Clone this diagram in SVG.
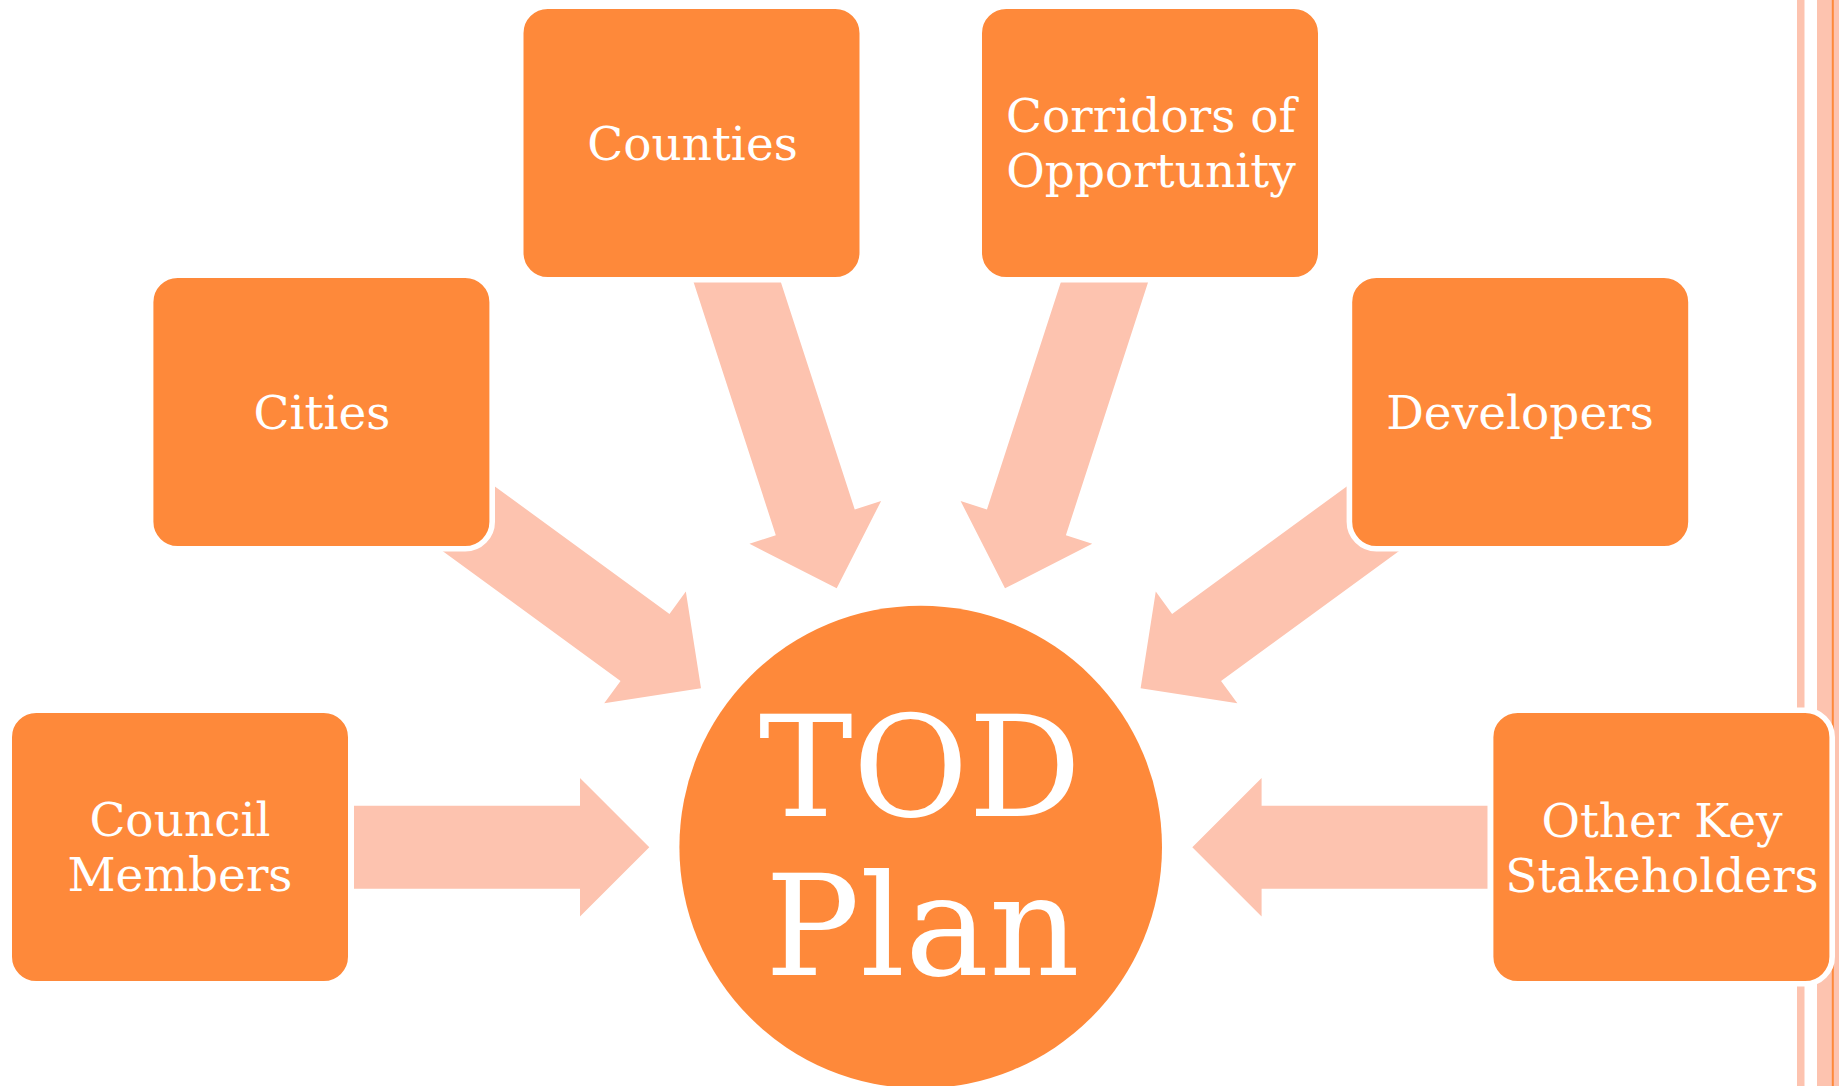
<svg xmlns="http://www.w3.org/2000/svg" width="1839" height="1086" viewBox="0 0 1839 1086">
<style>
.box{fill:#FE893A;stroke:#FFFFFF;stroke-width:5.6}
.lbl{fill:#FFFFFF;font-family:"DejaVu Serif","Liberation Serif",serif;font-size:47px;text-anchor:middle}
.big{fill:#FFFFFF;font-family:"DejaVu Serif","Liberation Serif",serif;font-size:141px;text-anchor:middle}
.arr{fill:#FDC3AF}
.stripe{fill:#FDC3AF}
</style>
<defs>
<polygon id="arrowShort" class="arr" points="0,0 -69.3,-69.2 -69.3,-41.5 -295.3,-41.5 -295.3,41.5 -69.3,41.5 -69.3,69.2"/>
<polygon id="arrowLong" class="arr" points="0,0 -69.3,-69.2 -69.3,-41.5 -350,-41.5 -350,41.5 -69.3,41.5 -69.3,69.2"/>
</defs>
<rect width="1839" height="1086" fill="#FFFFFF"/>
<g id="decor">
<rect class="stripe" x="1797" y="0" width="7.5" height="1086"/>
<rect class="stripe" x="1817" y="0" width="22" height="1086"/>
<rect x="1831.8" y="0" width="2" height="1086" fill="#FE893A"/>
</g>
<g id="connectors">
<use href="#arrowShort" transform="translate(649.3 847.3)"/>
<use href="#arrowShort" transform="translate(1192.3 847.3) rotate(180)"/>
<use href="#arrowLong" transform="translate(701 688.3) rotate(36.13)"/>
<use href="#arrowLong" transform="translate(1140.6 688.3) rotate(143.87)"/>
<use href="#arrowLong" transform="translate(836.7 588.3) rotate(72)"/>
<use href="#arrowLong" transform="translate(1005 588.3) rotate(108)"/>
</g>
<g id="node-counties">
<rect class="box" x="520.7" y="6.2" width="341.6" height="273.6" rx="27" ry="27"/>
<text class="lbl" x="692.5" y="160">Counties</text>
</g>
<g id="node-corridors">
<rect class="box" x="979.2" y="6.2" width="341.6" height="273.6" rx="27" ry="27"/>
<text class="lbl" x="1151" y="131.7">Corridors of</text>
<text class="lbl" x="1151" y="186.7">Opportunity</text>
</g>
<g id="node-cities">
<rect class="box" x="150.6" y="275.2" width="341.6" height="273.6" rx="27" ry="27"/>
<text class="lbl" x="322" y="429">Cities</text>
</g>
<g id="node-developers">
<rect class="box" x="1349.4" y="275.2" width="341.6" height="273.6" rx="27" ry="27"/>
<text class="lbl" x="1520" y="429">Developers</text>
</g>
<g id="node-council">
<rect class="box" x="9.2" y="710.2" width="341.6" height="273.6" rx="27" ry="27"/>
<text class="lbl" x="180" y="835.7">Council</text>
<text class="lbl" x="180" y="890.7">Members</text>
</g>
<g id="node-other">
<rect class="box" x="1490.6" y="710.2" width="341.6" height="273.6" rx="27" ry="27"/>
<text class="lbl" x="1662" y="836.7">Other Key</text>
<text class="lbl" x="1662" y="891.7">Stakeholders</text>
</g>
<g id="node-tod">
<circle cx="920.7" cy="847" r="241.3" fill="#FE893A"/>
<text class="big" x="920" y="816">TOD</text>
<text class="big" x="922.5" y="975">Plan</text>
</g>
</svg>
